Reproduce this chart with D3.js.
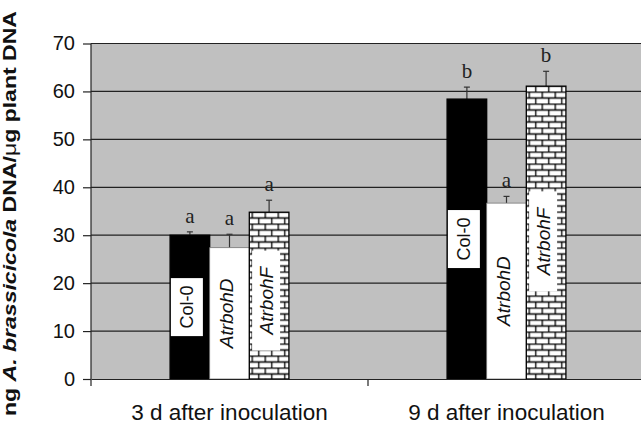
<!DOCTYPE html>
<html>
<head>
<meta charset="utf-8">
<script src="https://cdn.jsdelivr.net/npm/d3@7"></script>
<style>
  body { margin: 0; background: #fff; }
  svg { display: block; }
</style>
</head>
<body>
<svg id="chart"></svg>
<script>
// data
var groups = ['3 d after inoculation', '9 d after inoculation'];
var genotypes = ['Col-0', 'AtrbohD', 'AtrbohF'];
var values3d = [30.0, 27.4, 34.8];
var values9d = [58.4, 36.7, 61.1];
var errors3d = [0.7, 2.8, 2.5];
var errors9d = [2.5, 1.4, 3.1];
var letters3d = ['a', 'a', 'a'];
var letters9d = ['b', 'a', 'b'];
var yTicks = [0, 10, 20, 30, 40, 50, 60, 70];

var W = 641, H = 426;
var margin = {top: 43.5, right: 0, bottom: 47, left: 91};
var width = 554; // plot area runs past the right edge
var height = H - margin.top - margin.bottom;

var rows = [];
groups.forEach(function(g, gi) {
  var vals = gi == 0 ? values3d : values9d;
  var errs = gi == 0 ? errors3d : errors9d;
  var lets = gi == 0 ? letters3d : letters9d;
  genotypes.forEach(function(k, i) {
    rows.push({group: g, key: k, value: vals[i], err: errs[i], letter: lets[i]});
  });
});

var svg = d3.select('#chart').attr('width', W).attr('height', H);

// brick pattern for AtrbohF
var defs = svg.append('defs');
var pat = defs.append('pattern')
    .attr('id', 'brick')
    .attr('patternUnits', 'userSpaceOnUse')
    .attr('width', 13).attr('height', 12);
pat.append('rect').attr('width', 13).attr('height', 12).attr('fill', '#fff');
pat.append('path')
    .attr('d', 'M0,0.5H13M0,6.5H13M3,0V6M9.5,6V12')
    .attr('stroke', '#000').attr('stroke-width', 1.3).attr('fill', 'none');

var g = svg.append('g')
    .attr('transform', 'translate(' + margin.left + ',' + margin.top + ')');

var y = d3.scaleLinear().domain([0, 70]).range([height, 0]);
var x0 = d3.scaleBand().domain(groups).range([0, width]).paddingInner(0).paddingOuter(0);
var x1 = d3.scaleBand().domain(genotypes)
    .range([x0.bandwidth() * 0.2855, x0.bandwidth() * 0.7145]);

// grey plot area
g.append('rect')
    .attr('x', 0).attr('y', 0)
    .attr('width', width).attr('height', height)
    .attr('fill', '#c0c0c0');

// gridlines
g.selectAll('.grid')
  .data(yTicks.slice(1))
  .enter().append('line')
    .attr('x1', 0).attr('x2', width)
    .attr('y1', d => y(d)).attr('y2', d => y(d))
    .attr('stroke', '#222').attr('stroke-width', 1.2);

var fills = {'Col-0': '#000', 'AtrbohD': '#fff', 'AtrbohF': 'url(#brick)'};

var bars = g.selectAll('.bar')
  .data(rows)
  .enter().append('g')
    .attr('transform', d => 'translate(' + (x0(d.group) + x1(d.key)) + ',0)');

var bw = x1.bandwidth();

// error bars (upper half only)
bars.append('line')
    .attr('x1', bw / 2).attr('x2', bw / 2)
    .attr('y1', d => y(d.value)).attr('y2', d => y(d.value + d.err))
    .attr('stroke', '#333').attr('stroke-width', 1.2);
bars.append('line')
    .attr('x1', bw / 2 - 3).attr('x2', bw / 2 + 3)
    .attr('y1', d => y(d.value + d.err)).attr('y2', d => y(d.value + d.err))
    .attr('stroke', '#333').attr('stroke-width', 1.2);

bars.append('rect')
    .attr('x', 0).attr('y', d => y(d.value))
    .attr('width', bw)
    .attr('height', d => height - y(d.value))
    .attr('fill', d => fills[d.key])
    .attr('stroke', d => d.key == 'AtrbohD' ? '#777' : '#000')
    .attr('stroke-width', d => d.key == 'AtrbohD' ? 0.8 : 1.3);

// significance letters
bars.append('text')
    .attr('x', bw / 2)
    .attr('y', d => y(d.value + d.err) - 9)
    .attr('text-anchor', 'middle')
    .style('font-family', '"Liberation Serif", "Times New Roman", serif')
    .style('font-size', '21px')
    .attr('fill', '#222')
    .text(d => d.letter);

// labels inside the bars
var inner = bars.append('g')
    .attr('transform', function(d) {
      var barH = height - y(d.value);
      var frac = d.key == 'AtrbohF' ? 0.47 : 0.5;
      return 'translate(' + (bw / 2) + ',' + (height - barH * frac) + ') rotate(-90)';
    });

inner.filter(d => d.key != 'AtrbohD').append('rect')
    .attr('x', d => d.key == 'Col-0' ? -29 : -50)
    .attr('y', d => d.key == 'Col-0' ? -19 : -17)
    .attr('width', d => d.key == 'Col-0' ? 58 : 100)
    .attr('height', d => d.key == 'Col-0' ? 32 : 28)
    .attr('fill', '#fff');

inner.append('text')
    .attr('text-anchor', 'middle')
    .attr('y', -3)
    .attr('dy', '0.36em')
    .style('font-family', '"Liberation Sans", Arial, sans-serif')
    .style('font-size', d => d.key == 'Col-0' ? '18px' : '19px')
    .style('font-style', d => d.key == 'Col-0' ? 'normal' : 'italic')
    .attr('fill', '#111')
    .text(d => d.key);

// y axis
var yAxis = d3.axisLeft(y).tickValues(yTicks).tickSize(8).tickPadding(8);
var ya = g.append('g').call(yAxis);
ya.select('.domain').attr('d', 'M0,0V' + (height + 7)).attr('stroke', '#222').attr('stroke-width', 1.2);
ya.selectAll('.tick line').attr('stroke', '#222').attr('stroke-width', 1.2);
ya.selectAll('text')
    .style('font-family', '"Liberation Sans", Arial, sans-serif')
    .style('font-size', '20px')
    .attr('fill', '#111');

// x axis
var xAxis = d3.axisBottom(x0).tickSize(0).tickPadding(25);
var xa = g.append('g').attr('transform', 'translate(0,' + height + ')').call(xAxis);
xa.select('.domain').attr('stroke', '#222').attr('stroke-width', 1.2);
xa.selectAll('text')
    .style('font-family', '"Liberation Sans", Arial, sans-serif')
    .style('font-size', '22.5px')
    .attr('fill', '#111');
// separator tick between the groups
xa.append('line')
    .attr('x1', x0(groups[1])).attr('x2', x0(groups[1]))
    .attr('y1', 0).attr('y2', 7)
    .attr('stroke', '#222').attr('stroke-width', 1.2);

// y axis title
var title = svg.append('text')
    .attr('transform', 'translate(15.5,213.5) rotate(-90)')
    .attr('text-anchor', 'middle')
    .attr('textLength', 405)
    .attr('lengthAdjust', 'spacingAndGlyphs')
    .style('font-family', '"Liberation Sans", Arial, sans-serif')
    .style('font-size', '18px')
    .style('font-weight', 'bold')
    .attr('fill', '#111');
title.append('tspan').text('ng ');
title.append('tspan').style('font-style', 'italic').text('A. brassicicola');
title.append('tspan').text(' DNA/');
title.append('tspan').style('font-weight', 'normal').text('μ');
title.append('tspan').text('g plant DNA');
</script>
</body>
</html>
